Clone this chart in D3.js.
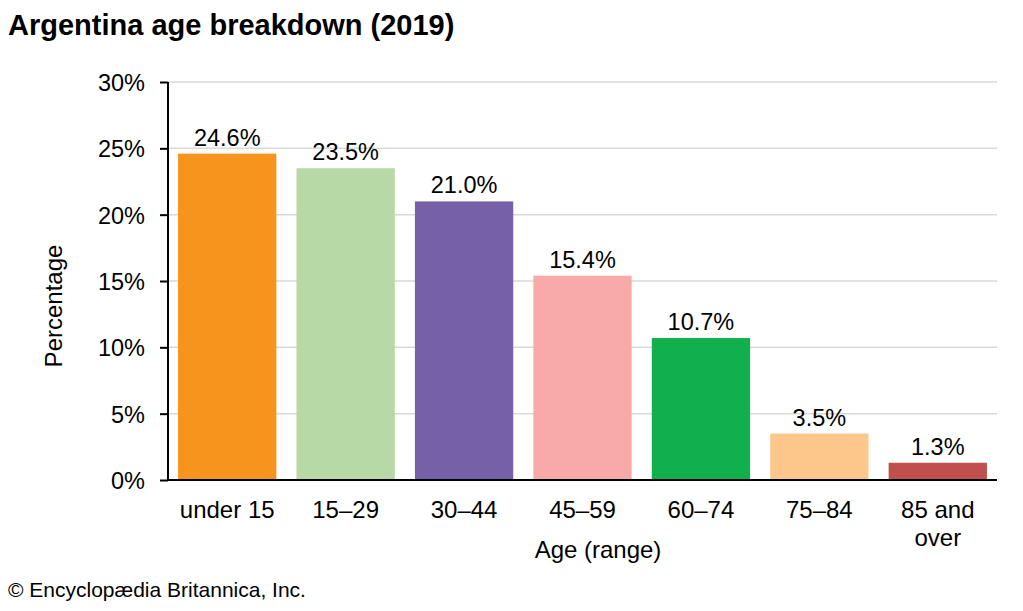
<!DOCTYPE html>
<html>
<head>
<meta charset="utf-8">
<script src="https://cdn.jsdelivr.net/npm/d3@7"></script>
<style>
  body { margin: 0; background: #fff; }
  text { font-family: "Liberation Sans", Arial, sans-serif; fill: #000; }
</style>
</head>
<body>
<div id="chart"></div>
<script>
// data
var ageGroups = ["under 15", "15–29", "30–44", "45–59", "60–74", "75–84", "85 and over"];
var shares = [24.6, 23.5, 21.0, 15.4, 10.7, 3.5, 1.3];
var barColors = ["#f7941d", "#b6d9a6", "#7660a8", "#f7aaa8", "#12b04c", "#fdc68a", "#c0504d"];
var yTicks = [0, 5, 10, 15, 20, 25, 30];

var svgWidth = 1023;
var svgHeight = 611;

var margin = { top: 82, bottom: 131, right: 26, left: 168 };
var width = svgWidth - margin.left - margin.right;
var height = svgHeight - margin.top - margin.bottom;

var svg = d3.select("#chart")
    .append("svg")
    .attr("width", svgWidth)
    .attr("height", svgHeight);

var chartGroup = svg.append("g")
    .attr("transform", `translate(${margin.left}, ${margin.top})`);

var xScale = d3.scaleBand()
    .domain(ageGroups)
    .range([0, width])
    .paddingInner(0.17)
    .paddingOuter(0.085);

var yScale = d3.scaleLinear()
    .domain([0, 30])
    .range([height, 0]);

// gridlines
chartGroup.append("g")
    .selectAll("line")
    .data(yTicks.filter(d => d > 0))
    .enter()
    .append("line")
    .attr("x1", 0)
    .attr("x2", width)
    .attr("y1", d => yScale(d))
    .attr("y2", d => yScale(d))
    .attr("stroke", "#d9d9d9")
    .attr("stroke-width", 1.5);

// bars
chartGroup.append("g")
    .selectAll("rect")
    .data(shares)
    .enter()
    .append("rect")
    .attr("x", (d, i) => xScale(ageGroups[i]))
    .attr("y", d => yScale(d))
    .attr("width", xScale.bandwidth())
    .attr("height", d => height - yScale(d))
    .attr("fill", (d, i) => barColors[i]);

// value labels
chartGroup.append("g")
    .selectAll("text")
    .data(shares)
    .enter()
    .append("text")
    .attr("x", (d, i) => xScale(ageGroups[i]) + xScale.bandwidth() / 2)
    .attr("y", d => yScale(d) - 8)
    .attr("text-anchor", "middle")
    .style("font-size", "23.5px")
    .text(d => d.toFixed(1) + "%");

// y axis
var yAxis = d3.axisLeft(yScale)
    .tickValues(yTicks)
    .tickFormat(d => d + "%")
    .tickSize(8)
    .tickPadding(15);

var yAxisGroup = chartGroup.append("g").call(yAxis);
yAxisGroup.select(".domain").attr("stroke", "#000").attr("stroke-width", 2).attr("d", `M0,${height}V0`);
yAxisGroup.selectAll(".tick line").attr("stroke", "#000").attr("stroke-width", 2);
yAxisGroup.selectAll(".tick text")
    .style("font-size", "23.5px")
    .style("font-family", "'Liberation Sans', Arial, sans-serif")
    .attr("fill", "#000")
    .attr("dy", "0.36em");

// x axis baseline
chartGroup.append("line")
    .attr("x1", 0)
    .attr("x2", width)
    .attr("y1", height)
    .attr("y2", height)
    .attr("stroke", "#000")
    .attr("stroke-width", 2);

// x labels, "85 and over" wraps on two lines
var xLabels = chartGroup.append("g")
    .selectAll("text")
    .data(ageGroups)
    .enter()
    .append("text")
    .attr("x", d => xScale(d) + xScale.bandwidth() / 2)
    .attr("y", height + 38)
    .attr("text-anchor", "middle")
    .style("font-size", "24px");

xLabels.each(function (d) {
    var lines = d === "85 and over" ? ["85 and", "over"] : [d];
    var t = d3.select(this);
    lines.forEach((line, i) => {
        t.append("tspan")
            .attr("x", xScale(d) + xScale.bandwidth() / 2)
            .attr("dy", i === 0 ? 0 : 28)
            .text(line);
    });
});

// x axis title
svg.append("text")
    .attr("x", 598)
    .attr("y", 558)
    .attr("text-anchor", "middle")
    .style("font-size", "24px")
    .text("Age (range)");

// y axis title
svg.append("text")
    .attr("transform", "rotate(-90)")
    .attr("x", -306)
    .attr("y", 62)
    .attr("text-anchor", "middle")
    .style("font-size", "24px")
    .text("Percentage");

// title
svg.append("text")
    .attr("x", 8)
    .attr("y", 35)
    .style("font-size", "29px")
    .style("font-weight", "bold")
    .text("Argentina age breakdown (2019)");

// credit
svg.append("text")
    .attr("x", 8)
    .attr("y", 597)
    .style("font-size", "21px")
    .text("© Encyclopædia Britannica, Inc.");
</script>
</body>
</html>
